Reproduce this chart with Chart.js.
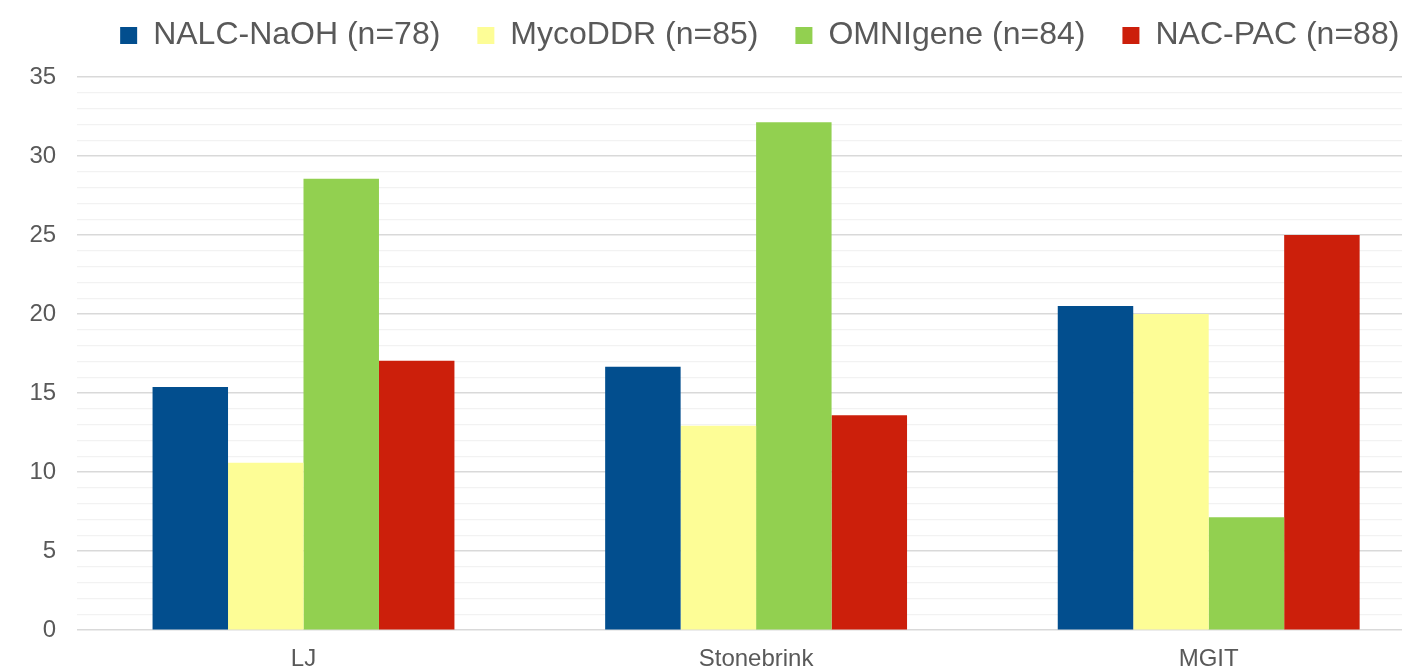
<!DOCTYPE html>
<html lang="en">
<head>
  <meta charset="UTF-8">
  <title>Bar chart</title>
  <script src="https://cdn.jsdelivr.net/npm/chart.js"></script>
  <style>
    body { margin: 0; background: #fff; overflow: hidden; }
    #wrap { width: 1402px; height: 669px; overflow: hidden; }
  </style>
</head>
<body>
  <div id="wrap">
    <canvas id="myBarChart" width="1440" height="680"></canvas>
  </div>

  <script>
    const categories = ['LJ', 'Stonebrink', 'MGIT'];
    const seriesNames = ['NALC-NaOH (n=78)', 'MycoDDR (n=85)', 'OMNIgene (n=84)', 'NAC-PAC (n=88)'];
    const nalcNaoh = [15.38, 16.67, 20.51];
    const mycoDdr = [10.59, 12.94, 20.0];
    const omnigene = [28.57, 32.14, 7.14];
    const nacPac = [17.05, 13.6, 25.0];
    const colores = ['rgb(2, 78, 142)', 'rgb(253, 253, 150)', 'rgb(146, 208, 80)', 'rgb(204, 31, 11)'];

    const valores = [nalcNaoh, mycoDdr, omnigene, nacPac];

    const data = {
      labels: categories,
      datasets: seriesNames.map((nombre, i) => ({
        label: nombre,
        data: valores[i],
        backgroundColor: colores[i],
        borderWidth: 0,
        categoryPercentage: 0.667,
        barPercentage: 1.0
      }))
    };

    // mueve la leyenda para que quede centrada como en el original
    const moverLeyenda = {
      id: 'moverLeyenda',
      afterLayout(chart) {
        chart.legend.top -= 17.5;
        chart.legend.bottom -= 17.5;
        chart.legend.left += 38;
        chart.legend.right += 38;
      }
    };

    const config = {
      type: 'bar',
      data: data,
      options: {
        responsive: false,
        animation: false,
        layout: { padding: { left: 8.5, right: 5, top: 0, bottom: 0 } },
        plugins: {
          legend: {
            position: 'top',
            maxHeight: 77,
            labels: {
              boxWidth: 17,
              boxHeight: 17,
              padding: 37,
              color: '#595959',
              font: { family: "'Liberation Sans', Arial, sans-serif", size: 32 }
            }
          },
          tooltip: { enabled: false }
        },
        scales: {
          x: {
            grid: { display: false },
            border: { display: false },
            ticks: {
              padding: 6.5,
              color: '#595959',
              font: { family: "'Liberation Sans', Arial, sans-serif", size: 24 }
            }
          },
          y: {
            min: 0,
            max: 35,
            border: { display: false },
            grid: {
              drawTicks: false,
              color: ctx => (ctx.tick.value % 5 === 0 ? '#D9D9D9' : '#F2F2F2'),
              lineWidth: ctx => (ctx.tick.value % 5 === 0 ? 1.5 : 1.2)
            },
            ticks: {
              stepSize: 1,
              autoSkip: false,
              padding: 21,
              color: '#595959',
              font: { family: "'Liberation Sans', Arial, sans-serif", size: 24 },
              callback: v => (v % 5 === 0 ? v : '')
            }
          }
        }
      },
      plugins: [moverLeyenda]
    };

    new Chart(document.getElementById('myBarChart'), config);
  </script>
</body>
</html>
